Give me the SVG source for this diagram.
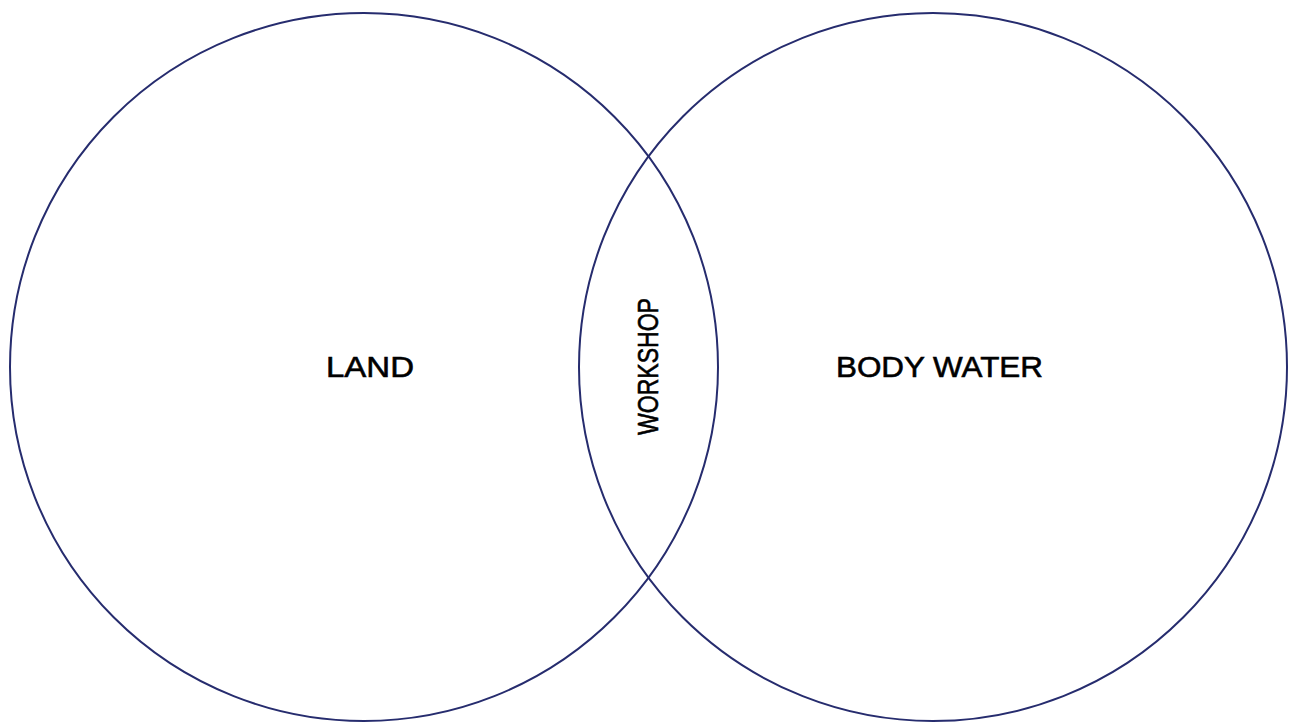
<svg xmlns="http://www.w3.org/2000/svg" width="1291" height="726" viewBox="0 0 1291 726">
<style>
.c{fill:none;stroke:#262c6e;stroke-width:2}
.t{font-family:"Liberation Sans",Arial,sans-serif;fill:#000;stroke:#000;stroke-width:0.6;text-anchor:middle}
</style>
<rect width="1291" height="726" fill="#fff"/>
<g id="land">
<circle class="c" cx="364" cy="367" r="354"/>
<text class="t" x="370" y="377" font-size="30" textLength="88" lengthAdjust="spacingAndGlyphs">LAND</text>
</g>
<g id="body-water">
<circle class="c" cx="933" cy="367" r="354"/>
<text class="t" x="939.5" y="377" font-size="30" textLength="207" lengthAdjust="spacingAndGlyphs">BODY WATER</text>
</g>
<g id="workshop">
<text class="t" transform="translate(658,366.5) rotate(-90)" font-size="29" textLength="137" lengthAdjust="spacingAndGlyphs">WORKSHOP</text>
</g>
<g id="connectors"/>
</svg>
